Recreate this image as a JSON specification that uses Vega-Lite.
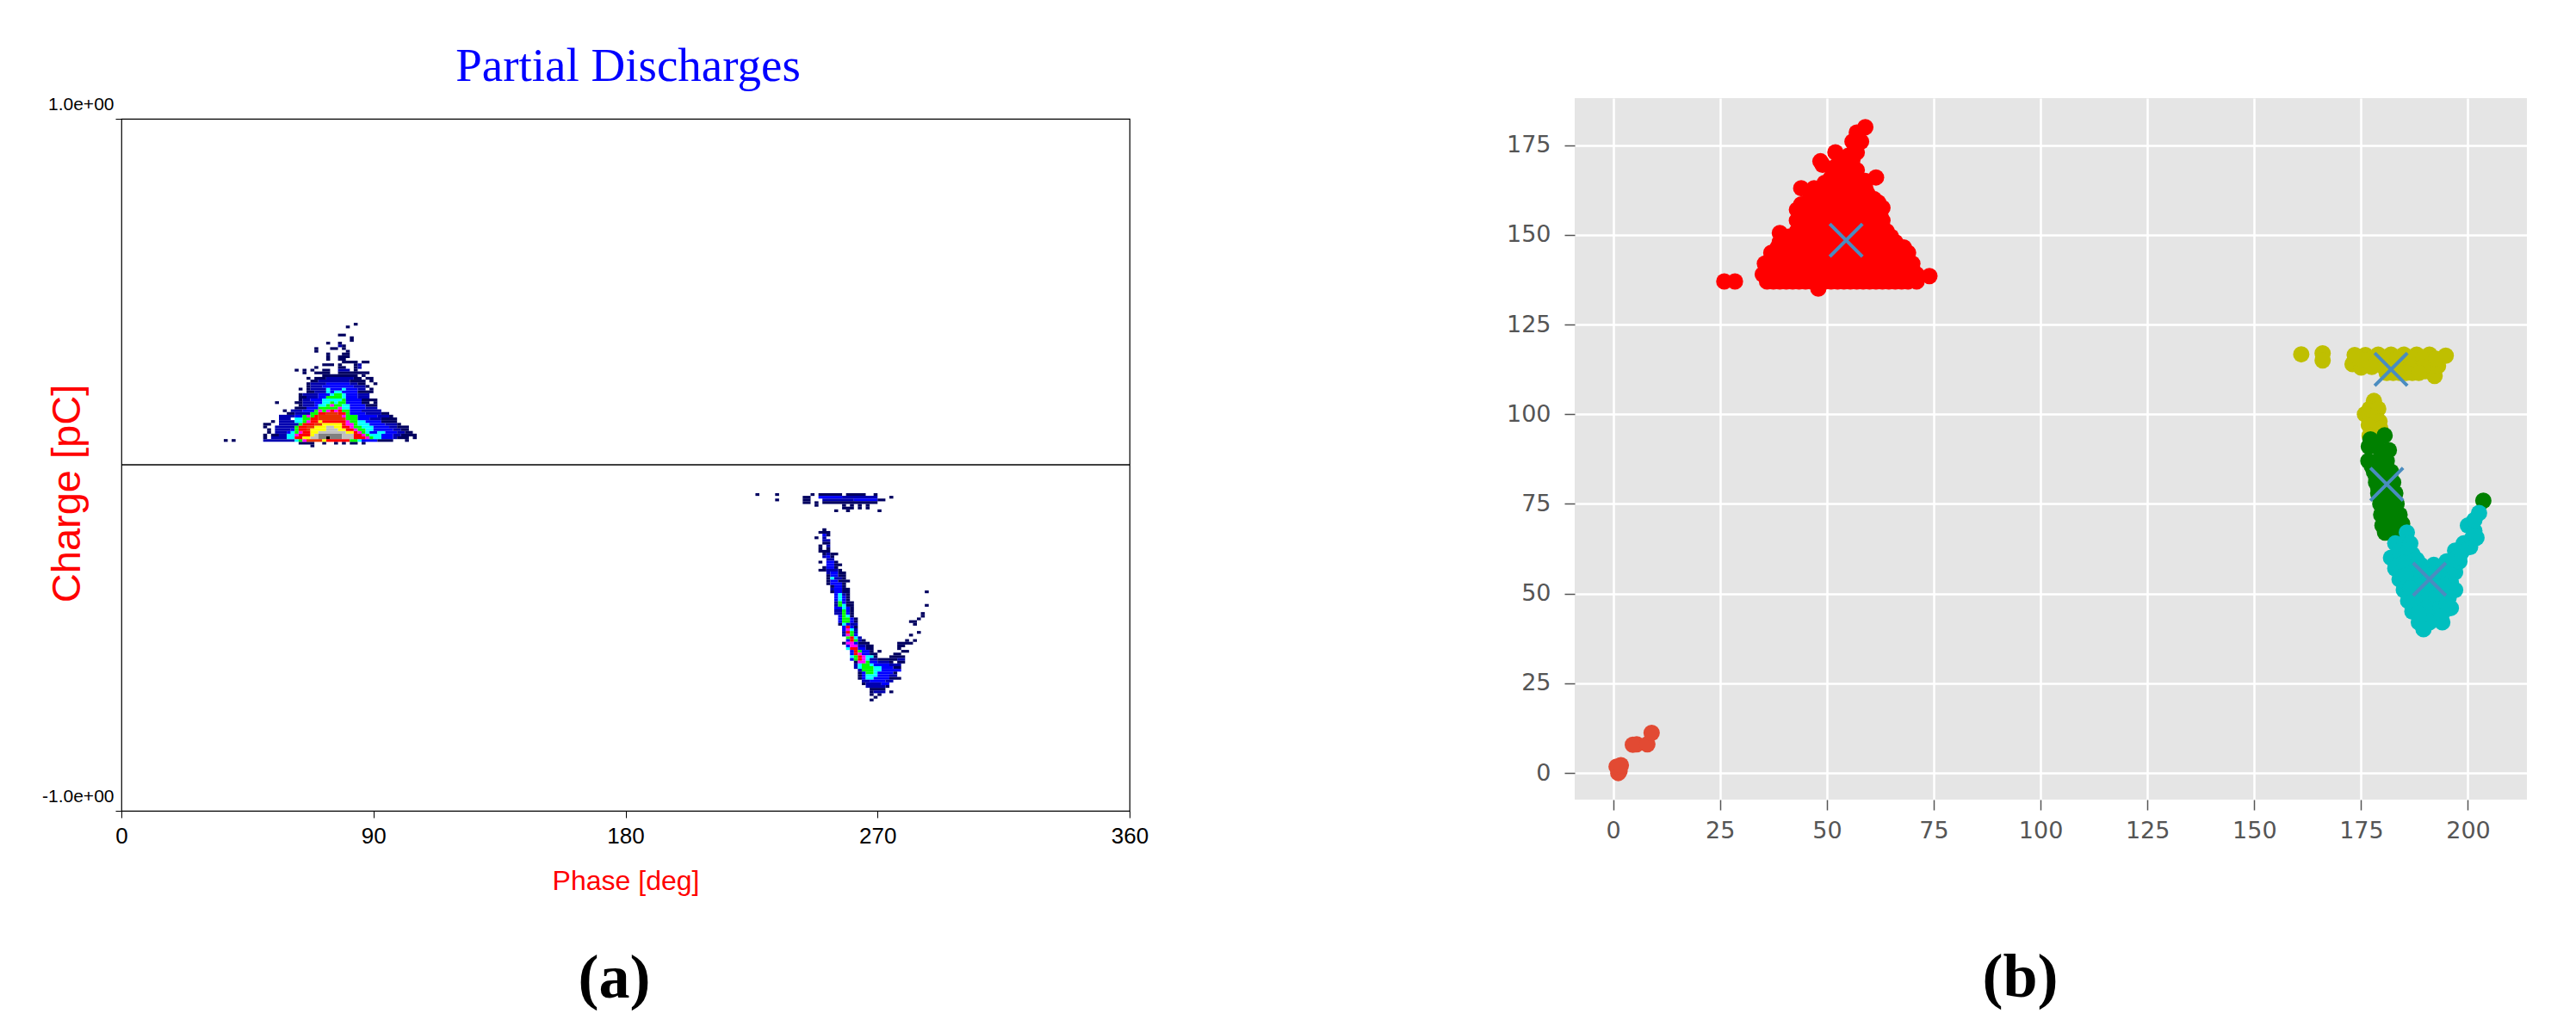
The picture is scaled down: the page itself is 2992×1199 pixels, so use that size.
{"$schema":"https://vega.github.io/schema/vega-lite/v6.json","background":"white","padding":{"left":47,"top":50,"right":10,"bottom":10},"bounds":"flush","spacing":1688,"config":{"view":{"stroke":null}},
"datasets":{"cells":[
{"c0":26,"c1":27,"r":9,"lvl":1},{"c0":28,"c1":29,"r":9,"lvl":1},
{"c0":48,"c1":49,"r":7,"lvl":1},
{"c0":45,"c1":49,"r":8,"lvl":1},{"c0":51,"c1":52,"r":8,"lvl":1},{"c0":54,"c1":55,"r":8,"lvl":1},{"c0":56,"c1":57,"r":8,"lvl":1},{"c0":58,"c1":60,"r":8,"lvl":1},{"c0":61,"c1":62,"r":8,"lvl":1},
{"c0":36,"c1":44,"r":9,"lvl":2},{"c0":44,"c1":45,"r":9,"lvl":4},{"c0":45,"c1":46,"r":9,"lvl":5},{"c0":46,"c1":47,"r":9,"lvl":6},{"c0":47,"c1":51,"r":9,"lvl":8},{"c0":51,"c1":52,"r":9,"lvl":9},{"c0":52,"c1":58,"r":9,"lvl":7},{"c0":58,"c1":60,"r":9,"lvl":5},{"c0":60,"c1":61,"r":9,"lvl":4},{"c0":61,"c1":65,"r":9,"lvl":3},{"c0":65,"c1":69,"r":9,"lvl":1},{"c0":72,"c1":73,"r":9,"lvl":1},
{"c0":36,"c1":37,"r":10,"lvl":1},{"c0":38,"c1":42,"r":10,"lvl":2},{"c0":42,"c1":44,"r":10,"lvl":4},{"c0":44,"c1":46,"r":10,"lvl":7},{"c0":46,"c1":48,"r":10,"lvl":9},{"c0":48,"c1":50,"r":10,"lvl":10},{"c0":50,"c1":52,"r":10,"lvl":11},{"c0":52,"c1":53,"r":10,"lvl":12},{"c0":53,"c1":56,"r":10,"lvl":11},{"c0":56,"c1":59,"r":10,"lvl":10},{"c0":59,"c1":62,"r":10,"lvl":7},{"c0":62,"c1":63,"r":10,"lvl":6},{"c0":63,"c1":64,"r":10,"lvl":5},{"c0":64,"c1":66,"r":10,"lvl":4},{"c0":66,"c1":69,"r":10,"lvl":3},{"c0":69,"c1":70,"r":10,"lvl":2},{"c0":70,"c1":73,"r":10,"lvl":1},{"c0":74,"c1":75,"r":10,"lvl":1},
{"c0":36,"c1":37,"r":11,"lvl":1},{"c0":38,"c1":40,"r":11,"lvl":1},{"c0":40,"c1":42,"r":11,"lvl":2},{"c0":42,"c1":44,"r":11,"lvl":4},{"c0":44,"c1":45,"r":11,"lvl":6},{"c0":45,"c1":48,"r":11,"lvl":7},{"c0":48,"c1":49,"r":11,"lvl":9},{"c0":49,"c1":50,"r":11,"lvl":10},{"c0":50,"c1":56,"r":11,"lvl":11},{"c0":56,"c1":59,"r":11,"lvl":10},{"c0":59,"c1":61,"r":11,"lvl":7},{"c0":61,"c1":62,"r":11,"lvl":6},{"c0":62,"c1":63,"r":11,"lvl":5},{"c0":63,"c1":66,"r":11,"lvl":4},{"c0":66,"c1":69,"r":11,"lvl":3},{"c0":69,"c1":71,"r":11,"lvl":2},{"c0":71,"c1":75,"r":11,"lvl":1},
{"c0":37,"c1":38,"r":12,"lvl":1},{"c0":39,"c1":42,"r":12,"lvl":2},{"c0":42,"c1":43,"r":12,"lvl":3},{"c0":43,"c1":44,"r":12,"lvl":4},{"c0":44,"c1":45,"r":12,"lvl":5},{"c0":45,"c1":46,"r":12,"lvl":6},{"c0":46,"c1":48,"r":12,"lvl":7},{"c0":48,"c1":50,"r":12,"lvl":9},{"c0":50,"c1":57,"r":12,"lvl":10},{"c0":57,"c1":59,"r":12,"lvl":9},{"c0":59,"c1":60,"r":12,"lvl":7},{"c0":60,"c1":61,"r":12,"lvl":6},{"c0":61,"c1":62,"r":12,"lvl":5},{"c0":62,"c1":63,"r":12,"lvl":4},{"c0":63,"c1":65,"r":12,"lvl":3},{"c0":65,"c1":67,"r":12,"lvl":4},{"c0":67,"c1":70,"r":12,"lvl":3},{"c0":70,"c1":72,"r":12,"lvl":2},{"c0":72,"c1":74,"r":12,"lvl":1},
{"c0":37,"c1":38,"r":13,"lvl":1},{"c0":39,"c1":43,"r":13,"lvl":2},{"c0":43,"c1":44,"r":13,"lvl":3},{"c0":44,"c1":45,"r":13,"lvl":5},{"c0":45,"c1":47,"r":13,"lvl":7},{"c0":47,"c1":48,"r":13,"lvl":8},{"c0":48,"c1":52,"r":13,"lvl":9},{"c0":52,"c1":55,"r":13,"lvl":10},{"c0":55,"c1":57,"r":13,"lvl":9},{"c0":57,"c1":59,"r":13,"lvl":7},{"c0":59,"c1":60,"r":13,"lvl":6},{"c0":60,"c1":62,"r":13,"lvl":5},{"c0":62,"c1":64,"r":13,"lvl":4},{"c0":64,"c1":69,"r":13,"lvl":3},{"c0":69,"c1":71,"r":13,"lvl":2},{"c0":71,"c1":73,"r":13,"lvl":1},
{"c0":36,"c1":37,"r":14,"lvl":1},{"c0":39,"c1":44,"r":14,"lvl":2},{"c0":44,"c1":45,"r":14,"lvl":5},{"c0":45,"c1":47,"r":14,"lvl":7},{"c0":47,"c1":49,"r":14,"lvl":8},{"c0":49,"c1":52,"r":14,"lvl":9},{"c0":52,"c1":54,"r":14,"lvl":10},{"c0":54,"c1":56,"r":14,"lvl":9},{"c0":56,"c1":58,"r":14,"lvl":7},{"c0":58,"c1":59,"r":14,"lvl":6},{"c0":59,"c1":61,"r":14,"lvl":5},{"c0":61,"c1":64,"r":14,"lvl":4},{"c0":64,"c1":68,"r":14,"lvl":3},{"c0":68,"c1":70,"r":14,"lvl":2},{"c0":70,"c1":73,"r":14,"lvl":1},
{"c0":36,"c1":38,"r":15,"lvl":1},{"c0":40,"c1":45,"r":15,"lvl":2},{"c0":45,"c1":46,"r":15,"lvl":5},{"c0":46,"c1":49,"r":15,"lvl":7},{"c0":49,"c1":51,"r":15,"lvl":8},{"c0":51,"c1":56,"r":15,"lvl":9},{"c0":56,"c1":57,"r":15,"lvl":7},{"c0":57,"c1":59,"r":15,"lvl":6},{"c0":59,"c1":60,"r":15,"lvl":5},{"c0":60,"c1":63,"r":15,"lvl":4},{"c0":63,"c1":67,"r":15,"lvl":3},{"c0":67,"c1":70,"r":15,"lvl":2},{"c0":70,"c1":71,"r":15,"lvl":1},
{"c0":38,"c1":39,"r":16,"lvl":1},{"c0":40,"c1":44,"r":16,"lvl":2},{"c0":44,"c1":46,"r":16,"lvl":4},{"c0":46,"c1":47,"r":16,"lvl":5},{"c0":47,"c1":48,"r":16,"lvl":6},{"c0":48,"c1":50,"r":16,"lvl":7},{"c0":50,"c1":51,"r":16,"lvl":9},{"c0":51,"c1":57,"r":16,"lvl":7},{"c0":57,"c1":58,"r":16,"lvl":6},{"c0":58,"c1":60,"r":16,"lvl":5},{"c0":60,"c1":62,"r":16,"lvl":4},{"c0":62,"c1":66,"r":16,"lvl":3},{"c0":66,"c1":70,"r":16,"lvl":1},
{"c0":40,"c1":43,"r":17,"lvl":2},{"c0":44,"c1":46,"r":17,"lvl":4},{"c0":46,"c1":48,"r":17,"lvl":5},{"c0":48,"c1":50,"r":17,"lvl":7},{"c0":50,"c1":57,"r":17,"lvl":8},{"c0":57,"c1":60,"r":17,"lvl":5},{"c0":60,"c1":63,"r":17,"lvl":3},{"c0":63,"c1":66,"r":17,"lvl":2},{"c0":66,"c1":70,"r":17,"lvl":1},
{"c0":40,"c1":44,"r":18,"lvl":2},{"c0":44,"c1":46,"r":18,"lvl":3},{"c0":46,"c1":47,"r":18,"lvl":5},{"c0":47,"c1":48,"r":18,"lvl":6},{"c0":48,"c1":49,"r":18,"lvl":5},{"c0":49,"c1":50,"r":18,"lvl":7},{"c0":50,"c1":56,"r":18,"lvl":8},{"c0":56,"c1":57,"r":18,"lvl":6},{"c0":57,"c1":60,"r":18,"lvl":5},{"c0":60,"c1":65,"r":18,"lvl":3},{"c0":65,"c1":68,"r":18,"lvl":2},{"c0":68,"c1":69,"r":18,"lvl":1},
{"c0":42,"c1":44,"r":19,"lvl":1},{"c0":44,"c1":48,"r":19,"lvl":2},{"c0":48,"c1":50,"r":19,"lvl":5},{"c0":50,"c1":52,"r":19,"lvl":7},{"c0":52,"c1":55,"r":19,"lvl":8},{"c0":55,"c1":57,"r":19,"lvl":7},{"c0":57,"c1":58,"r":19,"lvl":5},{"c0":58,"c1":62,"r":19,"lvl":3},{"c0":62,"c1":66,"r":19,"lvl":2},{"c0":66,"c1":68,"r":19,"lvl":1},
{"c0":41,"c1":42,"r":20,"lvl":1},{"c0":43,"c1":46,"r":20,"lvl":2},{"c0":46,"c1":49,"r":20,"lvl":3},{"c0":49,"c1":50,"r":20,"lvl":5},{"c0":50,"c1":51,"r":20,"lvl":6},{"c0":51,"c1":52,"r":20,"lvl":5},{"c0":52,"c1":53,"r":20,"lvl":6},{"c0":53,"c1":54,"r":20,"lvl":7},{"c0":54,"c1":55,"r":20,"lvl":6},{"c0":55,"c1":56,"r":20,"lvl":7},{"c0":56,"c1":58,"r":20,"lvl":5},{"c0":58,"c1":61,"r":20,"lvl":3},{"c0":61,"c1":66,"r":20,"lvl":2},
{"c0":44,"c1":47,"r":21,"lvl":1},{"c0":47,"c1":50,"r":21,"lvl":3},{"c0":50,"c1":55,"r":21,"lvl":5},{"c0":55,"c1":56,"r":21,"lvl":6},{"c0":56,"c1":58,"r":21,"lvl":4},{"c0":58,"c1":62,"r":21,"lvl":3},{"c0":62,"c1":65,"r":21,"lvl":2},
{"c0":45,"c1":46,"r":22,"lvl":1},{"c0":46,"c1":49,"r":22,"lvl":2},{"c0":49,"c1":50,"r":22,"lvl":3},{"c0":50,"c1":52,"r":22,"lvl":4},{"c0":52,"c1":53,"r":22,"lvl":5},{"c0":53,"c1":54,"r":22,"lvl":6},{"c0":54,"c1":56,"r":22,"lvl":5},{"c0":56,"c1":58,"r":22,"lvl":4},{"c0":58,"c1":62,"r":22,"lvl":3},{"c0":62,"c1":65,"r":22,"lvl":1},
{"c0":39,"c1":40,"r":23,"lvl":1},{"c0":44,"c1":46,"r":23,"lvl":1},{"c0":46,"c1":49,"r":23,"lvl":2},{"c0":49,"c1":51,"r":23,"lvl":3},{"c0":51,"c1":53,"r":23,"lvl":4},{"c0":53,"c1":54,"r":23,"lvl":5},{"c0":54,"c1":55,"r":23,"lvl":4},{"c0":55,"c1":57,"r":23,"lvl":5},{"c0":57,"c1":61,"r":23,"lvl":3},{"c0":61,"c1":63,"r":23,"lvl":1},{"c0":64,"c1":65,"r":23,"lvl":1},
{"c0":45,"c1":46,"r":24,"lvl":1},{"c0":46,"c1":48,"r":24,"lvl":2},{"c0":48,"c1":51,"r":24,"lvl":3},{"c0":51,"c1":56,"r":24,"lvl":4},{"c0":56,"c1":57,"r":24,"lvl":5},{"c0":57,"c1":61,"r":24,"lvl":3},{"c0":61,"c1":65,"r":24,"lvl":1},
{"c0":45,"c1":47,"r":25,"lvl":1},{"c0":47,"c1":50,"r":25,"lvl":2},{"c0":50,"c1":52,"r":25,"lvl":3},{"c0":52,"c1":56,"r":25,"lvl":5},{"c0":56,"c1":57,"r":25,"lvl":4},{"c0":57,"c1":60,"r":25,"lvl":3},{"c0":60,"c1":63,"r":25,"lvl":2},
{"c0":45,"c1":46,"r":26,"lvl":1},{"c0":46,"c1":50,"r":26,"lvl":2},{"c0":50,"c1":53,"r":26,"lvl":3},{"c0":53,"c1":54,"r":26,"lvl":4},{"c0":54,"c1":56,"r":26,"lvl":5},{"c0":56,"c1":57,"r":26,"lvl":4},{"c0":57,"c1":60,"r":26,"lvl":3},{"c0":60,"c1":63,"r":26,"lvl":2},
{"c0":47,"c1":49,"r":27,"lvl":1},{"c0":49,"c1":52,"r":27,"lvl":2},{"c0":52,"c1":53,"r":27,"lvl":4},{"c0":53,"c1":54,"r":27,"lvl":3},{"c0":54,"c1":56,"r":27,"lvl":4},{"c0":56,"c1":60,"r":27,"lvl":3},{"c0":60,"c1":64,"r":27,"lvl":1},
{"c0":45,"c1":46,"r":28,"lvl":1},{"c0":47,"c1":48,"r":28,"lvl":1},{"c0":48,"c1":52,"r":28,"lvl":2},{"c0":52,"c1":53,"r":28,"lvl":4},{"c0":53,"c1":56,"r":28,"lvl":3},{"c0":56,"c1":57,"r":28,"lvl":4},{"c0":57,"c1":60,"r":28,"lvl":3},{"c0":60,"c1":62,"r":28,"lvl":2},{"c0":63,"c1":64,"r":28,"lvl":1},
{"c0":47,"c1":48,"r":29,"lvl":1},{"c0":48,"c1":51,"r":29,"lvl":2},{"c0":51,"c1":59,"r":29,"lvl":3},{"c0":59,"c1":62,"r":29,"lvl":2},{"c0":62,"c1":63,"r":29,"lvl":1},
{"c0":47,"c1":48,"r":30,"lvl":1},{"c0":48,"c1":52,"r":30,"lvl":2},{"c0":52,"c1":58,"r":30,"lvl":3},{"c0":58,"c1":60,"r":30,"lvl":2},{"c0":60,"c1":62,"r":30,"lvl":1},{"c0":64,"c1":65,"r":30,"lvl":1},
{"c0":48,"c1":50,"r":31,"lvl":1},{"c0":50,"c1":58,"r":31,"lvl":2},{"c0":58,"c1":62,"r":31,"lvl":1},{"c0":63,"c1":64,"r":31,"lvl":1},
{"c0":47,"c1":48,"r":32,"lvl":1},{"c0":49,"c1":52,"r":32,"lvl":1},{"c0":52,"c1":59,"r":32,"lvl":2},{"c0":59,"c1":61,"r":32,"lvl":1},{"c0":62,"c1":64,"r":32,"lvl":1},
{"c0":51,"c1":60,"r":33,"lvl":1},{"c0":61,"c1":62,"r":33,"lvl":1},
{"c0":46,"c1":47,"r":34,"lvl":1},{"c0":49,"c1":53,"r":34,"lvl":1},{"c0":55,"c1":63,"r":34,"lvl":1},
{"c0":44,"c1":45,"r":35,"lvl":1},{"c0":46,"c1":47,"r":35,"lvl":1},{"c0":48,"c1":49,"r":35,"lvl":1},{"c0":51,"c1":53,"r":35,"lvl":1},{"c0":55,"c1":58,"r":35,"lvl":2},{"c0":59,"c1":60,"r":35,"lvl":1},
{"c0":49,"c1":50,"r":36,"lvl":1},{"c0":55,"c1":57,"r":36,"lvl":1},{"c0":59,"c1":60,"r":36,"lvl":1},{"c0":60,"c1":61,"r":36,"lvl":2},
{"c0":51,"c1":54,"r":37,"lvl":1},{"c0":55,"c1":56,"r":37,"lvl":1},{"c0":59,"c1":60,"r":37,"lvl":1},{"c0":60,"c1":61,"r":37,"lvl":2},
{"c0":56,"c1":60,"r":38,"lvl":1},{"c0":61,"c1":63,"r":38,"lvl":1},
{"c0":52,"c1":53,"r":39,"lvl":1},{"c0":55,"c1":57,"r":39,"lvl":1},
{"c0":52,"c1":53,"r":40,"lvl":1},{"c0":55,"c1":58,"r":40,"lvl":1},
{"c0":52,"c1":53,"r":41,"lvl":1},{"c0":56,"c1":58,"r":41,"lvl":1},
{"c0":49,"c1":50,"r":42,"lvl":1},{"c0":57,"c1":58,"r":42,"lvl":1},
{"c0":49,"c1":50,"r":43,"lvl":1},{"c0":53,"c1":55,"r":43,"lvl":1},{"c0":56,"c1":57,"r":43,"lvl":1},
{"c0":55,"c1":56,"r":44,"lvl":2},{"c0":56,"c1":57,"r":44,"lvl":1},
{"c0":52,"c1":53,"r":45,"lvl":1},{"c0":55,"c1":56,"r":45,"lvl":1},
{"c0":58,"c1":59,"r":46,"lvl":1},{"c0":58,"c1":59,"r":47,"lvl":1},{"c0":55,"c1":57,"r":48,"lvl":1},{"c0":57,"c1":58,"r":51,"lvl":1},{"c0":59,"c1":60,"r":52,"lvl":1},
{"c0":161,"c1":162,"r":-11,"lvl":1},{"c0":166,"c1":167,"r":-11,"lvl":1},{"c0":175,"c1":176,"r":-11,"lvl":1},{"c0":177,"c1":183,"r":-11,"lvl":1},{"c0":184,"c1":189,"r":-11,"lvl":1},{"c0":191,"c1":192,"r":-11,"lvl":1},
{"c0":173,"c1":175,"r":-12,"lvl":1},{"c0":177,"c1":183,"r":-12,"lvl":3},{"c0":183,"c1":192,"r":-12,"lvl":2},{"c0":195,"c1":196,"r":-12,"lvl":1},
{"c0":166,"c1":167,"r":-13,"lvl":1},{"c0":173,"c1":175,"r":-13,"lvl":1},{"c0":178,"c1":186,"r":-13,"lvl":2},{"c0":186,"c1":192,"r":-13,"lvl":3},{"c0":192,"c1":194,"r":-13,"lvl":1},
{"c0":173,"c1":175,"r":-14,"lvl":1},{"c0":176,"c1":177,"r":-14,"lvl":1},{"c0":178,"c1":192,"r":-14,"lvl":1},
{"c0":176,"c1":177,"r":-15,"lvl":1},{"c0":183,"c1":184,"r":-15,"lvl":1},{"c0":185,"c1":186,"r":-15,"lvl":1},{"c0":187,"c1":188,"r":-15,"lvl":1},{"c0":189,"c1":190,"r":-15,"lvl":1},
{"c0":183,"c1":186,"r":-16,"lvl":1},{"c0":187,"c1":188,"r":-16,"lvl":1},{"c0":189,"c1":190,"r":-16,"lvl":1},
{"c0":181,"c1":182,"r":-17,"lvl":1},{"c0":184,"c1":185,"r":-17,"lvl":1},{"c0":192,"c1":193,"r":-17,"lvl":1},
{"c0":178,"c1":179,"r":-24,"lvl":1},{"c0":177,"c1":180,"r":-25,"lvl":1},{"c0":178,"c1":179,"r":-26,"lvl":3},{"c0":179,"c1":180,"r":-26,"lvl":1},{"c0":176,"c1":177,"r":-27,"lvl":1},{"c0":178,"c1":179,"r":-27,"lvl":2},{"c0":178,"c1":180,"r":-28,"lvl":2},{"c0":178,"c1":180,"r":-29,"lvl":1},{"c0":177,"c1":178,"r":-30,"lvl":1},{"c0":179,"c1":180,"r":-30,"lvl":2},{"c0":177,"c1":178,"r":-31,"lvl":1},{"c0":179,"c1":180,"r":-31,"lvl":1},{"c0":177,"c1":180,"r":-32,"lvl":1},{"c0":178,"c1":179,"r":-33,"lvl":1},{"c0":179,"c1":180,"r":-33,"lvl":2},{"c0":180,"c1":182,"r":-33,"lvl":1},{"c0":178,"c1":179,"r":-34,"lvl":2},{"c0":179,"c1":180,"r":-34,"lvl":3},{"c0":180,"c1":181,"r":-34,"lvl":1},{"c0":179,"c1":181,"r":-35,"lvl":2},{"c0":177,"c1":178,"r":-36,"lvl":1},{"c0":179,"c1":181,"r":-36,"lvl":3},{"c0":181,"c1":182,"r":-36,"lvl":1},{"c0":179,"c1":181,"r":-37,"lvl":3},{"c0":181,"c1":183,"r":-37,"lvl":1},{"c0":178,"c1":179,"r":-38,"lvl":1},{"c0":179,"c1":181,"r":-38,"lvl":3},{"c0":181,"c1":182,"r":-38,"lvl":1},{"c0":177,"c1":179,"r":-39,"lvl":1},{"c0":179,"c1":182,"r":-39,"lvl":2},{"c0":182,"c1":183,"r":-39,"lvl":1},
{"c0":179,"c1":180,"r":-40,"lvl":2},{"c0":180,"c1":182,"r":-40,"lvl":3},{"c0":182,"c1":184,"r":-40,"lvl":1},
{"c0":179,"c1":180,"r":-41,"lvl":1},{"c0":180,"c1":182,"r":-41,"lvl":3},{"c0":182,"c1":184,"r":-41,"lvl":1},
{"c0":179,"c1":180,"r":-42,"lvl":1},{"c0":180,"c1":181,"r":-42,"lvl":4},{"c0":181,"c1":183,"r":-42,"lvl":2},{"c0":183,"c1":184,"r":-42,"lvl":1},
{"c0":179,"c1":180,"r":-43,"lvl":1},{"c0":180,"c1":182,"r":-43,"lvl":3},{"c0":182,"c1":185,"r":-43,"lvl":1},
{"c0":179,"c1":180,"r":-44,"lvl":1},{"c0":180,"c1":183,"r":-44,"lvl":3},{"c0":183,"c1":184,"r":-44,"lvl":1},
{"c0":180,"c1":181,"r":-45,"lvl":1},{"c0":181,"c1":183,"r":-45,"lvl":3},{"c0":183,"c1":184,"r":-45,"lvl":1},
{"c0":180,"c1":181,"r":-46,"lvl":2},{"c0":181,"c1":183,"r":-46,"lvl":3},{"c0":183,"c1":185,"r":-46,"lvl":1},
{"c0":180,"c1":181,"r":-47,"lvl":1},{"c0":181,"c1":183,"r":-47,"lvl":3},{"c0":183,"c1":185,"r":-47,"lvl":1},{"c0":204,"c1":205,"r":-47,"lvl":1},
{"c0":181,"c1":182,"r":-48,"lvl":3},{"c0":182,"c1":183,"r":-48,"lvl":4},{"c0":183,"c1":184,"r":-48,"lvl":2},{"c0":184,"c1":185,"r":-48,"lvl":1},
{"c0":181,"c1":182,"r":-49,"lvl":3},{"c0":182,"c1":183,"r":-49,"lvl":4},{"c0":183,"c1":184,"r":-49,"lvl":3},{"c0":184,"c1":185,"r":-49,"lvl":1},
{"c0":181,"c1":182,"r":-50,"lvl":3},{"c0":182,"c1":183,"r":-50,"lvl":4},{"c0":183,"c1":184,"r":-50,"lvl":3},{"c0":184,"c1":185,"r":-50,"lvl":1},
{"c0":181,"c1":182,"r":-51,"lvl":2},{"c0":182,"c1":183,"r":-51,"lvl":5},{"c0":183,"c1":184,"r":-51,"lvl":3},{"c0":184,"c1":186,"r":-51,"lvl":1},
{"c0":181,"c1":182,"r":-52,"lvl":2},{"c0":182,"c1":183,"r":-52,"lvl":5},{"c0":183,"c1":184,"r":-52,"lvl":4},{"c0":184,"c1":186,"r":-52,"lvl":1},{"c0":204,"c1":205,"r":-52,"lvl":1},
{"c0":181,"c1":183,"r":-53,"lvl":3},{"c0":183,"c1":184,"r":-53,"lvl":4},{"c0":184,"c1":185,"r":-53,"lvl":3},{"c0":185,"c1":186,"r":-53,"lvl":1},
{"c0":181,"c1":183,"r":-54,"lvl":2},{"c0":183,"c1":184,"r":-54,"lvl":5},{"c0":184,"c1":185,"r":-54,"lvl":3},{"c0":185,"c1":186,"r":-54,"lvl":1},
{"c0":181,"c1":183,"r":-55,"lvl":2},{"c0":183,"c1":184,"r":-55,"lvl":5},{"c0":184,"c1":185,"r":-55,"lvl":3},{"c0":185,"c1":186,"r":-55,"lvl":1},{"c0":203,"c1":204,"r":-55,"lvl":1},
{"c0":182,"c1":183,"r":-56,"lvl":3},{"c0":183,"c1":184,"r":-56,"lvl":5},{"c0":184,"c1":185,"r":-56,"lvl":4},{"c0":185,"c1":186,"r":-56,"lvl":1},{"c0":203,"c1":204,"r":-56,"lvl":1},
{"c0":182,"c1":183,"r":-57,"lvl":3},{"c0":183,"c1":185,"r":-57,"lvl":5},{"c0":185,"c1":186,"r":-57,"lvl":3},{"c0":186,"c1":187,"r":-57,"lvl":1},{"c0":202,"c1":203,"r":-57,"lvl":1},
{"c0":182,"c1":183,"r":-58,"lvl":3},{"c0":183,"c1":185,"r":-58,"lvl":5},{"c0":185,"c1":186,"r":-58,"lvl":3},{"c0":186,"c1":187,"r":-58,"lvl":1},{"c0":200,"c1":202,"r":-58,"lvl":1},
{"c0":182,"c1":183,"r":-59,"lvl":1},{"c0":183,"c1":184,"r":-59,"lvl":4},{"c0":184,"c1":185,"r":-59,"lvl":3},{"c0":185,"c1":187,"r":-59,"lvl":2},{"c0":201,"c1":202,"r":-59,"lvl":1},
{"c0":183,"c1":184,"r":-60,"lvl":3},{"c0":184,"c1":185,"r":-60,"lvl":7},{"c0":185,"c1":186,"r":-60,"lvl":3},{"c0":186,"c1":187,"r":-60,"lvl":1},
{"c0":183,"c1":184,"r":-61,"lvl":3},{"c0":184,"c1":185,"r":-61,"lvl":6},{"c0":185,"c1":186,"r":-61,"lvl":4},{"c0":186,"c1":187,"r":-61,"lvl":2},
{"c0":183,"c1":184,"r":-62,"lvl":2},{"c0":184,"c1":185,"r":-62,"lvl":7},{"c0":185,"c1":186,"r":-62,"lvl":5},{"c0":186,"c1":187,"r":-62,"lvl":2},{"c0":202,"c1":203,"r":-62,"lvl":1},
{"c0":183,"c1":184,"r":-63,"lvl":2},{"c0":184,"c1":185,"r":-63,"lvl":6},{"c0":185,"c1":186,"r":-63,"lvl":5},{"c0":186,"c1":187,"r":-63,"lvl":3},{"c0":200,"c1":201,"r":-63,"lvl":1},
{"c0":184,"c1":185,"r":-64,"lvl":5},{"c0":185,"c1":186,"r":-64,"lvl":7},{"c0":186,"c1":187,"r":-64,"lvl":4},{"c0":187,"c1":188,"r":-64,"lvl":2},
{"c0":184,"c1":185,"r":-65,"lvl":3},{"c0":185,"c1":186,"r":-65,"lvl":7},{"c0":186,"c1":187,"r":-65,"lvl":5},{"c0":187,"c1":188,"r":-65,"lvl":2},{"c0":188,"c1":189,"r":-65,"lvl":1},{"c0":199,"c1":200,"r":-65,"lvl":1},{"c0":201,"c1":202,"r":-65,"lvl":1},
{"c0":183,"c1":184,"r":-66,"lvl":1},{"c0":184,"c1":186,"r":-66,"lvl":6},{"c0":186,"c1":187,"r":-66,"lvl":3},{"c0":187,"c1":190,"r":-66,"lvl":1},{"c0":197,"c1":201,"r":-66,"lvl":1},
{"c0":184,"c1":185,"r":-67,"lvl":3},{"c0":185,"c1":187,"r":-67,"lvl":6},{"c0":187,"c1":189,"r":-67,"lvl":2},{"c0":189,"c1":191,"r":-67,"lvl":1},{"c0":197,"c1":199,"r":-67,"lvl":1},
{"c0":184,"c1":185,"r":-68,"lvl":4},{"c0":185,"c1":187,"r":-68,"lvl":7},{"c0":187,"c1":189,"r":-68,"lvl":3},{"c0":189,"c1":191,"r":-68,"lvl":1},{"c0":197,"c1":198,"r":-68,"lvl":1},
{"c0":185,"c1":186,"r":-69,"lvl":3},{"c0":186,"c1":187,"r":-69,"lvl":7},{"c0":187,"c1":188,"r":-69,"lvl":5},{"c0":188,"c1":190,"r":-69,"lvl":3},{"c0":190,"c1":191,"r":-69,"lvl":1},{"c0":192,"c1":193,"r":-69,"lvl":1},{"c0":198,"c1":200,"r":-69,"lvl":1},
{"c0":185,"c1":186,"r":-70,"lvl":3},{"c0":186,"c1":187,"r":-70,"lvl":7},{"c0":187,"c1":188,"r":-70,"lvl":6},{"c0":188,"c1":190,"r":-70,"lvl":3},{"c0":190,"c1":192,"r":-70,"lvl":1},{"c0":196,"c1":198,"r":-70,"lvl":1},
{"c0":185,"c1":186,"r":-71,"lvl":4},{"c0":186,"c1":187,"r":-71,"lvl":5},{"c0":187,"c1":188,"r":-71,"lvl":7},{"c0":188,"c1":189,"r":-71,"lvl":6},{"c0":189,"c1":191,"r":-71,"lvl":4},{"c0":191,"c1":192,"r":-71,"lvl":1},{"c0":195,"c1":199,"r":-71,"lvl":1},
{"c0":185,"c1":186,"r":-72,"lvl":3},{"c0":186,"c1":187,"r":-72,"lvl":5},{"c0":187,"c1":188,"r":-72,"lvl":7},{"c0":188,"c1":189,"r":-72,"lvl":6},{"c0":189,"c1":190,"r":-72,"lvl":4},{"c0":190,"c1":192,"r":-72,"lvl":2},{"c0":192,"c1":197,"r":-72,"lvl":1},{"c0":197,"c1":199,"r":-72,"lvl":2},
{"c0":186,"c1":187,"r":-73,"lvl":1},{"c0":187,"c1":189,"r":-73,"lvl":6},{"c0":189,"c1":190,"r":-73,"lvl":5},{"c0":190,"c1":192,"r":-73,"lvl":3},{"c0":192,"c1":195,"r":-73,"lvl":2},{"c0":195,"c1":196,"r":-73,"lvl":1},{"c0":197,"c1":199,"r":-73,"lvl":1},
{"c0":186,"c1":187,"r":-74,"lvl":2},{"c0":187,"c1":188,"r":-74,"lvl":4},{"c0":188,"c1":190,"r":-74,"lvl":5},{"c0":190,"c1":191,"r":-74,"lvl":4},{"c0":191,"c1":195,"r":-74,"lvl":3},{"c0":195,"c1":198,"r":-74,"lvl":2},
{"c0":186,"c1":187,"r":-75,"lvl":2},{"c0":187,"c1":188,"r":-75,"lvl":4},{"c0":188,"c1":191,"r":-75,"lvl":5},{"c0":191,"c1":193,"r":-75,"lvl":4},{"c0":193,"c1":196,"r":-75,"lvl":3},{"c0":196,"c1":198,"r":-75,"lvl":1},
{"c0":187,"c1":188,"r":-76,"lvl":2},{"c0":188,"c1":191,"r":-76,"lvl":5},{"c0":191,"c1":193,"r":-76,"lvl":4},{"c0":193,"c1":198,"r":-76,"lvl":3},
{"c0":187,"c1":188,"r":-77,"lvl":1},{"c0":188,"c1":189,"r":-77,"lvl":3},{"c0":189,"c1":191,"r":-77,"lvl":5},{"c0":191,"c1":192,"r":-77,"lvl":4},{"c0":192,"c1":196,"r":-77,"lvl":3},{"c0":196,"c1":197,"r":-77,"lvl":1},
{"c0":187,"c1":188,"r":-78,"lvl":1},{"c0":188,"c1":189,"r":-78,"lvl":3},{"c0":189,"c1":192,"r":-78,"lvl":4},{"c0":192,"c1":195,"r":-78,"lvl":3},{"c0":195,"c1":197,"r":-78,"lvl":2},
{"c0":187,"c1":188,"r":-79,"lvl":1},{"c0":188,"c1":189,"r":-79,"lvl":3},{"c0":189,"c1":191,"r":-79,"lvl":4},{"c0":191,"c1":195,"r":-79,"lvl":3},{"c0":195,"c1":198,"r":-79,"lvl":1},
{"c0":188,"c1":190,"r":-80,"lvl":2},{"c0":190,"c1":194,"r":-80,"lvl":3},{"c0":194,"c1":196,"r":-80,"lvl":2},
{"c0":188,"c1":189,"r":-81,"lvl":1},{"c0":189,"c1":193,"r":-81,"lvl":2},{"c0":193,"c1":195,"r":-81,"lvl":3},
{"c0":189,"c1":194,"r":-82,"lvl":2},{"c0":194,"c1":195,"r":-82,"lvl":1},
{"c0":190,"c1":194,"r":-83,"lvl":1},
{"c0":190,"c1":191,"r":-84,"lvl":1},{"c0":191,"c1":194,"r":-84,"lvl":2},{"c0":195,"c1":196,"r":-84,"lvl":1},
{"c0":190,"c1":191,"r":-85,"lvl":1},{"c0":192,"c1":193,"r":-85,"lvl":1},
{"c0":191,"c1":192,"r":-86,"lvl":1},
{"c0":190,"c1":191,"r":-87,"lvl":1}
],
"points":[
{"x":1.2,"y":0,"k":"a"},{"x":1.5,"y":0.6,"k":"a"},{"x":0.8,"y":1.8,"k":"a"},{"x":1.8,"y":2.2,"k":"a"},{"x":4.6,"y":7.9,"k":"a"},{"x":5.5,"y":8,"k":"a"},{"x":8,"y":8,"k":"a"},{"x":9,"y":11.2,"k":"a"},
{"x":26,"y":137,"k":"r"},{"x":28.5,"y":137,"k":"r"},{"x":48,"y":135,"k":"r"},
{"x":36,"y":137,"k":"r"},{"x":39,"y":137,"k":"r"},{"x":42,"y":137,"k":"r"},{"x":45,"y":137,"k":"r"},{"x":48,"y":137,"k":"r"},{"x":51,"y":137,"k":"r"},{"x":54,"y":137,"k":"r"},{"x":57,"y":137,"k":"r"},{"x":60,"y":137,"k":"r"},{"x":63,"y":137,"k":"r"},{"x":66,"y":137,"k":"r"},{"x":69,"y":137,"k":"r"},{"x":71,"y":137,"k":"r"},
{"x":37.5,"y":137,"k":"r"},{"x":40.5,"y":137,"k":"r"},{"x":43.5,"y":137,"k":"r"},{"x":46.5,"y":137,"k":"r"},{"x":49.5,"y":137,"k":"r"},{"x":52.5,"y":137,"k":"r"},{"x":55.5,"y":137,"k":"r"},{"x":58.5,"y":137,"k":"r"},{"x":61.5,"y":137,"k":"r"},{"x":64.5,"y":137,"k":"r"},{"x":67.5,"y":137,"k":"r"},
{"x":35,"y":139,"k":"r"},{"x":38,"y":139,"k":"r"},{"x":41,"y":139,"k":"r"},{"x":44,"y":139,"k":"r"},{"x":47,"y":139,"k":"r"},{"x":50,"y":139,"k":"r"},{"x":53,"y":139,"k":"r"},{"x":56,"y":139,"k":"r"},{"x":59,"y":139,"k":"r"},{"x":62,"y":139,"k":"r"},{"x":65,"y":139,"k":"r"},{"x":68,"y":139,"k":"r"},{"x":71,"y":139,"k":"r"},{"x":74,"y":138.5,"k":"r"},
{"x":36.5,"y":140.5,"k":"r"},{"x":40,"y":140.5,"k":"r"},{"x":43,"y":140.5,"k":"r"},{"x":46,"y":140.5,"k":"r"},{"x":49,"y":140.5,"k":"r"},{"x":52,"y":140.5,"k":"r"},{"x":55,"y":140.5,"k":"r"},{"x":58,"y":140.5,"k":"r"},{"x":61,"y":140.5,"k":"r"},{"x":64,"y":140.5,"k":"r"},{"x":67,"y":140.5,"k":"r"},{"x":70,"y":140.5,"k":"r"},
{"x":35.5,"y":142,"k":"r"},{"x":39,"y":142,"k":"r"},{"x":42,"y":142,"k":"r"},{"x":45,"y":142,"k":"r"},{"x":48,"y":142,"k":"r"},{"x":51,"y":142,"k":"r"},{"x":54,"y":142,"k":"r"},{"x":57,"y":142,"k":"r"},{"x":60,"y":142,"k":"r"},{"x":63,"y":142,"k":"r"},{"x":66,"y":142,"k":"r"},{"x":70,"y":142,"k":"r"},
{"x":37,"y":143.5,"k":"r"},{"x":41,"y":143.5,"k":"r"},{"x":44,"y":143.5,"k":"r"},{"x":47,"y":143.5,"k":"r"},{"x":50,"y":143.5,"k":"r"},{"x":53,"y":143.5,"k":"r"},{"x":56,"y":143.5,"k":"r"},{"x":59,"y":143.5,"k":"r"},{"x":62,"y":143.5,"k":"r"},{"x":65,"y":143.5,"k":"r"},{"x":68,"y":143.5,"k":"r"},
{"x":37,"y":145,"k":"r"},{"x":40,"y":145,"k":"r"},{"x":43,"y":145,"k":"r"},{"x":46,"y":145,"k":"r"},{"x":49,"y":145,"k":"r"},{"x":52,"y":145,"k":"r"},{"x":55,"y":145,"k":"r"},{"x":58,"y":145,"k":"r"},{"x":61,"y":145,"k":"r"},{"x":64,"y":145,"k":"r"},{"x":69,"y":145,"k":"r"},{"x":67,"y":145,"k":"r"},
{"x":38.5,"y":146.5,"k":"r"},{"x":41,"y":146.5,"k":"r"},{"x":44,"y":146.5,"k":"r"},{"x":47,"y":146.5,"k":"r"},{"x":50,"y":146.5,"k":"r"},{"x":53,"y":146.5,"k":"r"},{"x":56,"y":146.5,"k":"r"},{"x":59,"y":146.5,"k":"r"},{"x":62,"y":146.5,"k":"r"},{"x":65,"y":146.5,"k":"r"},{"x":68,"y":146.5,"k":"r"},
{"x":39,"y":148,"k":"r"},{"x":42,"y":148,"k":"r"},{"x":45,"y":148,"k":"r"},{"x":48,"y":148,"k":"r"},{"x":51,"y":148,"k":"r"},{"x":54,"y":148,"k":"r"},{"x":57,"y":148,"k":"r"},{"x":60,"y":148,"k":"r"},{"x":63,"y":148,"k":"r"},{"x":66,"y":148,"k":"r"},
{"x":41,"y":149.5,"k":"r"},{"x":44,"y":149.5,"k":"r"},{"x":47,"y":149.5,"k":"r"},{"x":50,"y":149.5,"k":"r"},{"x":53,"y":149.5,"k":"r"},{"x":56,"y":149.5,"k":"r"},{"x":59,"y":149.5,"k":"r"},{"x":62,"y":149.5,"k":"r"},{"x":65,"y":149.5,"k":"r"},
{"x":39,"y":150.5,"k":"r"},{"x":43,"y":151,"k":"r"},{"x":46,"y":151,"k":"r"},{"x":49,"y":151,"k":"r"},{"x":52,"y":151,"k":"r"},{"x":55,"y":151,"k":"r"},{"x":58,"y":151,"k":"r"},{"x":61,"y":151,"k":"r"},{"x":64,"y":151,"k":"r"},
{"x":44.5,"y":152.5,"k":"r"},{"x":47.5,"y":152.5,"k":"r"},{"x":50.5,"y":152.5,"k":"r"},{"x":53.5,"y":152.5,"k":"r"},{"x":56.5,"y":152.5,"k":"r"},{"x":59.5,"y":152.5,"k":"r"},{"x":62.5,"y":152.5,"k":"r"},
{"x":43,"y":154,"k":"r"},{"x":46,"y":154,"k":"r"},{"x":49,"y":154,"k":"r"},{"x":52,"y":154,"k":"r"},{"x":55,"y":154,"k":"r"},{"x":58,"y":154,"k":"r"},{"x":61,"y":154,"k":"r"},{"x":63,"y":154,"k":"r"},
{"x":44.5,"y":155.5,"k":"r"},{"x":47.5,"y":155.5,"k":"r"},{"x":50.5,"y":155.5,"k":"r"},{"x":53.5,"y":155.5,"k":"r"},{"x":56.5,"y":155.5,"k":"r"},{"x":59.5,"y":155.5,"k":"r"},{"x":62.5,"y":155.5,"k":"r"},
{"x":43,"y":157,"k":"r"},{"x":46,"y":157,"k":"r"},{"x":49,"y":157,"k":"r"},{"x":52,"y":157,"k":"r"},{"x":55,"y":157,"k":"r"},{"x":58,"y":157,"k":"r"},{"x":61,"y":157,"k":"r"},{"x":63,"y":157.5,"k":"r"},
{"x":44,"y":158.5,"k":"r"},{"x":47.5,"y":158.5,"k":"r"},{"x":50.5,"y":158.5,"k":"r"},{"x":53.5,"y":158.5,"k":"r"},{"x":56.5,"y":158.5,"k":"r"},{"x":59.5,"y":158.5,"k":"r"},{"x":62,"y":159,"k":"r"},
{"x":46,"y":160,"k":"r"},{"x":49,"y":160,"k":"r"},{"x":52,"y":160,"k":"r"},{"x":55,"y":160,"k":"r"},{"x":58,"y":160,"k":"r"},{"x":61,"y":160,"k":"r"},
{"x":47.5,"y":161.5,"k":"r"},{"x":50.5,"y":161.5,"k":"r"},{"x":53.5,"y":161.5,"k":"r"},{"x":56.5,"y":161.5,"k":"r"},{"x":59.5,"y":161.5,"k":"r"},
{"x":44,"y":163,"k":"r"},{"x":47,"y":163,"k":"r"},{"x":50,"y":163,"k":"r"},{"x":53,"y":163,"k":"r"},{"x":56,"y":163,"k":"r"},{"x":59,"y":163,"k":"r"},
{"x":49.5,"y":164.5,"k":"r"},{"x":52.5,"y":164.5,"k":"r"},{"x":55.5,"y":164.5,"k":"r"},{"x":58,"y":164.5,"k":"r"},
{"x":51,"y":166,"k":"r"},{"x":54,"y":166,"k":"r"},{"x":57,"y":166,"k":"r"},{"x":61.5,"y":166,"k":"r"},{"x":59,"y":165,"k":"r"},
{"x":52.5,"y":167.5,"k":"r"},{"x":55.5,"y":167.5,"k":"r"},
{"x":52,"y":169,"k":"r"},{"x":55,"y":169,"k":"r"},{"x":57,"y":168,"k":"r"},{"x":48.5,"y":170.5,"k":"r"},{"x":49,"y":169.5,"k":"r"},
{"x":53.5,"y":171,"k":"r"},{"x":56,"y":171,"k":"r"},
{"x":52,"y":173,"k":"r"},{"x":55,"y":172,"k":"r"},{"x":57,"y":173,"k":"r"},{"x":56,"y":176,"k":"r"},{"x":58,"y":176,"k":"r"},{"x":57,"y":178.5,"k":"r"},{"x":59,"y":180,"k":"r"},
{"x":161,"y":116.7,"k":"y"},{"x":166,"y":117,"k":"y"},{"x":166,"y":115,"k":"y"},
{"x":173.5,"y":116.5,"k":"y"},{"x":173,"y":114,"k":"y"},{"x":176,"y":116.5,"k":"y"},{"x":176,"y":114,"k":"y"},{"x":175,"y":113,"k":"y"},{"x":179,"y":116.6,"k":"y"},{"x":179,"y":114,"k":"y"},{"x":182,"y":116.6,"k":"y"},{"x":182,"y":114,"k":"y"},{"x":181,"y":111.5,"k":"y"},{"x":185,"y":116.6,"k":"y"},{"x":185,"y":114,"k":"y"},{"x":184,"y":111.5,"k":"y"},{"x":188,"y":116.6,"k":"y"},{"x":188,"y":114,"k":"y"},{"x":187,"y":111.5,"k":"y"},{"x":191,"y":116.6,"k":"y"},{"x":191,"y":114,"k":"y"},{"x":190,"y":112,"k":"y"},{"x":192.2,"y":110.7,"k":"y"},{"x":193,"y":113.5,"k":"y"},{"x":194.8,"y":116.3,"k":"y"},
{"x":174.5,"y":115.5,"k":"y"},{"x":177.5,"y":115.5,"k":"y"},{"x":180.5,"y":115.5,"k":"y"},{"x":183.5,"y":115.5,"k":"y"},{"x":186.5,"y":115.5,"k":"y"},{"x":189.5,"y":115.5,"k":"y"},{"x":192.5,"y":115.5,"k":"y"},{"x":177.5,"y":113.2,"k":"y"},{"x":180.5,"y":113,"k":"y"},{"x":183.5,"y":113,"k":"y"},{"x":186.5,"y":113,"k":"y"},{"x":189.5,"y":113,"k":"y"},{"x":182.5,"y":111.5,"k":"y"},{"x":185.5,"y":111.5,"k":"y"},{"x":188.5,"y":111.5,"k":"y"},
{"x":178,"y":103.7,"k":"y"},{"x":177,"y":101.5,"k":"y"},{"x":179,"y":101.5,"k":"y"},{"x":175.9,"y":100,"k":"y"},{"x":178,"y":99,"k":"y"},{"x":179.3,"y":98,"k":"y"},{"x":176.8,"y":97,"k":"y"},{"x":179.5,"y":96,"k":"y"},{"x":177,"y":94,"k":"y"},
{"x":177.2,"y":93,"k":"g"},{"x":180.5,"y":94.1,"k":"g"},{"x":178.5,"y":92,"k":"g"},{"x":176.8,"y":91,"k":"g"},{"x":179.5,"y":90,"k":"g"},{"x":181.5,"y":90,"k":"g"},{"x":176.7,"y":87,"k":"g"},{"x":179,"y":87,"k":"g"},{"x":181,"y":87,"k":"g"},{"x":178,"y":84,"k":"g"},{"x":180,"y":84,"k":"g"},{"x":182,"y":84,"k":"g"},{"x":178.5,"y":81,"k":"g"},{"x":180.5,"y":81,"k":"g"},{"x":182.5,"y":81,"k":"g"},{"x":179,"y":78,"k":"g"},{"x":181,"y":78,"k":"g"},{"x":183,"y":78,"k":"g"},{"x":179.5,"y":75,"k":"g"},{"x":181.5,"y":75,"k":"g"},{"x":183.3,"y":75,"k":"g"},{"x":179.7,"y":72,"k":"g"},{"x":182,"y":72,"k":"g"},{"x":184,"y":72,"k":"g"},{"x":180,"y":69,"k":"g"},{"x":182,"y":69,"k":"g"},{"x":184.6,"y":69.5,"k":"g"},{"x":180.6,"y":67,"k":"g"},{"x":183,"y":67,"k":"g"},
{"x":177.5,"y":85.5,"k":"g"},{"x":180,"y":85.5,"k":"g"},{"x":178.5,"y":82.5,"k":"g"},{"x":181,"y":82.5,"k":"g"},{"x":179,"y":79.5,"k":"g"},{"x":182,"y":79.5,"k":"g"},{"x":179.5,"y":76.5,"k":"g"},{"x":182.5,"y":76.5,"k":"g"},{"x":180,"y":73.5,"k":"g"},{"x":183,"y":73.5,"k":"g"},{"x":180.5,"y":70.5,"k":"g"},{"x":183.5,"y":70.5,"k":"g"},{"x":203.6,"y":75.9,"k":"g"},
{"x":185.7,"y":67,"k":"c"},{"x":183,"y":64,"k":"c"},{"x":185,"y":64,"k":"c"},{"x":186.5,"y":64,"k":"c"},{"x":182,"y":60,"k":"c"},{"x":184.5,"y":60,"k":"c"},{"x":187,"y":61,"k":"c"},{"x":189,"y":58,"k":"c"},{"x":192,"y":58,"k":"c"},{"x":183,"y":57,"k":"c"},{"x":186,"y":57,"k":"c"},{"x":190,"y":56,"k":"c"},{"x":194.5,"y":56,"k":"c"},{"x":197,"y":56,"k":"c"},{"x":184,"y":54,"k":"c"},{"x":187,"y":54,"k":"c"},{"x":190,"y":53,"k":"c"},{"x":193,"y":53,"k":"c"},{"x":196,"y":53,"k":"c"},{"x":185,"y":51,"k":"c"},{"x":188,"y":50,"k":"c"},{"x":191,"y":50,"k":"c"},{"x":194,"y":50,"k":"c"},{"x":197,"y":51,"k":"c"},{"x":186,"y":48,"k":"c"},{"x":189,"y":47,"k":"c"},{"x":192,"y":47,"k":"c"},{"x":196,"y":46,"k":"c"},{"x":187,"y":45,"k":"c"},{"x":190,"y":44,"k":"c"},{"x":192,"y":44,"k":"c"},{"x":194,"y":42,"k":"c"},{"x":188.5,"y":42,"k":"c"},{"x":191,"y":42,"k":"c"},{"x":189.6,"y":40.1,"k":"c"},
{"x":184,"y":62,"k":"c"},{"x":186,"y":62,"k":"c"},{"x":188,"y":59.5,"k":"c"},{"x":185,"y":58.5,"k":"c"},{"x":187.5,"y":56,"k":"c"},{"x":192,"y":55.5,"k":"c"},{"x":185.5,"y":55,"k":"c"},{"x":188.5,"y":52,"k":"c"},{"x":191.5,"y":52,"k":"c"},{"x":194.5,"y":52,"k":"c"},{"x":186.5,"y":51.5,"k":"c"},{"x":189.5,"y":49,"k":"c"},{"x":192.5,"y":49,"k":"c"},{"x":195.5,"y":49,"k":"c"},{"x":187.5,"y":48,"k":"c"},{"x":190.5,"y":46,"k":"c"},{"x":193.5,"y":46,"k":"c"},{"x":188.5,"y":44.5,"k":"c"},{"x":194,"y":44.5,"k":"c"},{"x":195,"y":47,"k":"c"},
{"x":195,"y":59,"k":"c"},{"x":197,"y":62,"k":"c"},{"x":199,"y":64,"k":"c"},{"x":198,"y":59,"k":"c"},{"x":196.5,"y":59.5,"k":"c"},{"x":198.5,"y":61.5,"k":"c"},{"x":200.5,"y":63,"k":"c"},{"x":201,"y":65.5,"k":"c"},{"x":202,"y":65.6,"k":"c"},{"x":200,"y":69,"k":"c"},{"x":201.5,"y":67.5,"k":"c"},{"x":201.5,"y":70.5,"k":"c"},{"x":202.6,"y":72.5,"k":"c"}
],
"centers":[{"x":54.5,"y":148.5},{"x":182,"y":112.5},{"x":181,"y":80.5},{"x":191,"y":54}]
},
"hconcat":[
{"spacing":23,"bounds":"flush","vconcat":[
{"width":1171,"height":1,"title":{"text":"Partial Discharges","color":"#0000ff","font":"Liberation Serif","fontSize":55,"fontWeight":"normal","anchor":"middle","offset":8,"dx":3},"data":{"values":[]},"mark":"rule","encoding":{}},
{"width":1171,"height":804,"view":{"stroke":"black","strokeWidth":1.2,"fill":"white"},
"title":{"text":"(a)","orient":"bottom","anchor":"middle","font":"Liberation Serif","fontSize":72,"fontWeight":"bold","color":"black","dx":-13,"offset":63},
"layer":[
{"data":{"name":"cells"},"mark":{"type":"rect","height":3.2},"encoding":{
"x":{"field":"c0","type":"quantitative","scale":{"domain":[0,256],"nice":false,"zero":false},"axis":{"values":[0,64,128,192,256],"labelExpr":"datum.value*360/256","labelFlush":false,"grid":false,"domain":false,"tickColor":"black","tickSize":8,"labelColor":"black","labelFont":"Liberation Sans","labelFontSize":26,"labelPadding":8,"title":"Phase [deg]","titleColor":"#ff0000","titleFont":"Liberation Sans","titleFontSize":32,"titleFontWeight":"normal","titlePadding":24}},
"x2":{"field":"c1"},
"y":{"field":"r","type":"quantitative","scale":{"domain":[-128,128],"nice":false,"zero":false},"axis":{"values":[-128,128],"labelExpr":"datum.value>0?'1.0e+00':'-1.0e+00'","labelFlush":false,"grid":false,"domain":false,"tickColor":"black","tickSize":7,"labelColor":"black","labelFont":"Liberation Sans","labelFontSize":21,"labelOffset":-17,"labelPadding":2,"title":"Charge [pC]","titleColor":"#ff0000","titleFont":"Liberation Sans","titleFontSize":47,"titleFontWeight":"normal","titleY":435,"titleX":-39}},
"color":{"field":"lvl","type":"ordinal","legend":null,"scale":{"domain":[1,2,3,4,5,6,7,8,9,10,11,12],"range":["#000060","#0000b0","#0000ff","#00ffff","#00ff00","#ff00ff","#ff0000","#e83000","#ffff00","#c0c0c0","#808080","#000000"]}}
}},
{"data":{"values":[{"level":0}]},"mark":{"type":"rule","color":"black","strokeWidth":1.5},"encoding":{"y":{"field":"level","type":"quantitative"}}}
]}
]},
{"width":1106,"height":815,"view":{"fill":"#E5E5E5","stroke":null},
"layer":[
{"data":{"name":"points"},"mark":{"type":"point","filled":true,"size":361,"opacity":1,"shape":"circle"},"encoding":{
"x":{"field":"x","type":"quantitative","scale":{"domain":[-9,213.8],"nice":false,"zero":false},"axis":{"values":[0,25,50,75,100,125,150,175,200],"grid":true,"gridColor":"white","gridWidth":2.5,"domain":false,"tickColor":"#555555","tickSize":12,"tickWidth":1.5,"labelColor":"#555555","labelFont":"DejaVu Sans","labelFontSize":27,"labelPadding":11,"title":"(b)","titleColor":"black","titleFont":"Liberation Serif","titleFontSize":72,"titleFontWeight":"bold","titlePadding":122,"titleX":517}},
"y":{"field":"y","type":"quantitative","scale":{"domain":[-7.4,188.1],"nice":false,"zero":false},"axis":{"values":[0,25,50,75,100,125,150,175],"grid":true,"gridColor":"white","gridWidth":2.5,"domain":false,"tickColor":"#555555","tickSize":12,"tickWidth":1.5,"labelColor":"#555555","labelFont":"DejaVu Sans","labelFontSize":27,"labelPadding":16,"title":null}},
"color":{"field":"k","type":"nominal","legend":null,"scale":{"domain":["a","r","y","g","c"],"range":["#E24A33","#ff0000","#bfbf00","#008000","#00bfbf"]}}
}},
{"data":{"name":"centers"},"mark":{"type":"point","shape":"M-1,-1L1,1M-1,1L1,-1","size":1444,"filled":false,"stroke":"#4a8cc0","strokeWidth":4,"opacity":1},"encoding":{"x":{"field":"x","type":"quantitative"},"y":{"field":"y","type":"quantitative"}}}
],"resolve":{"scale":{"color":"independent"}}}
]}
